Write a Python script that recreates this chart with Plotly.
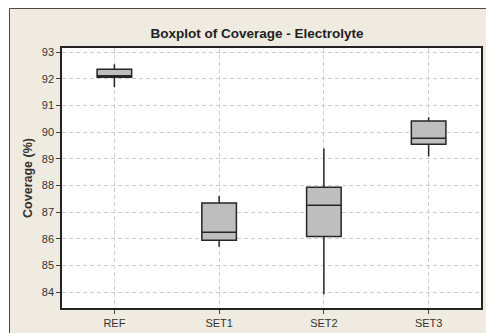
import plotly.graph_objects as go

categories = ["REF", "SET1", "SET2", "SET3"]
lower_whisker = [91.69, 85.71, 83.93, 89.09]
q1_values = [92.06, 85.95, 86.09, 89.55]
median_values = [92.12, 86.25, 87.26, 89.78]
q3_values = [92.36, 87.35, 87.94, 90.42]
upper_whisker = [92.55, 87.61, 89.39, 90.56]
y_ticks = [84, 85, 86, 87, 88, 89, 90, 91, 92, 93]

# page body has an 8px margin, so the figure is drawn 8px smaller
W, H = 486, 325
L, R, T, B = 54, 13, 40, 25
pw, ph = W - L - R, H - T - B

fig = go.Figure()
fig.add_trace(go.Box(
    x=categories,
    q1=q1_values, median=median_values, q3=q3_values,
    lowerfence=lower_whisker, upperfence=upper_whisker,
    fillcolor="#BEBEBE",
    line=dict(color="#262626", width=1.5),
    whiskerwidth=0,
    width=0.33,
    boxpoints=False,
    hoverinfo="skip",
    showlegend=False,
))

# beige outer frame (paper coords relative to plot area)
fx0 = (1.5 - L) / pw
fx1 = (W + 2 - L) / pw
fy1 = (H - B - 0.5) / ph
fy0 = -(B + 2) / ph
fig.add_shape(type="rect", xref="paper", yref="paper",
              x0=fx0, x1=fx1, y0=fy0, y1=fy1,
              fillcolor="#EFEBE1", line=dict(color="#4A4A4A", width=1),
              layer="below")
fig.add_shape(type="rect", xref="paper", yref="paper",
              x0=0, x1=1, y0=0, y1=1,
              fillcolor="white", line=dict(width=0), layer="below")

font_family = "Liberation Sans, Arial, sans-serif"
fig.update_layout(
    width=W, height=H,
    margin=dict(l=L, r=R, t=T, b=B, pad=0, autoexpand=False),
    paper_bgcolor="white",
    plot_bgcolor="rgba(0,0,0,0)",
    font=dict(family=font_family, size=11, color="#333333"),
    title=dict(text="<b>Boxplot of Coverage - Electrolyte</b>",
               x=249 / W, xanchor="center", y=1 - 25 / H, yanchor="middle",
               xref="container", yref="container",
               font=dict(size=13.5, color="#222222", family=font_family)),
    xaxis=dict(
        type="category", range=[-0.5, 3.5], automargin=False,
        showline=True, linecolor="#222222", linewidth=1.5, mirror=True,
        ticks="outside", ticklen=4, tickcolor="#444444",
        showgrid=True, gridcolor="#CCCCCC", griddash="4px,3px", gridwidth=1,
        zeroline=False,
        tickfont=dict(size=11, color="#333333"),
    ),
    yaxis=dict(
        range=[83.41, 93.16], automargin=False,
        tickvals=y_ticks, ticktext=[str(v) for v in y_ticks],
        showline=True, linecolor="#222222", linewidth=1.5, mirror=True,
        ticks="outside", ticklen=4, tickcolor="#444444",
        showgrid=True, gridcolor="#CCCCCC", griddash="4px,3px", gridwidth=1,
        zeroline=False,
        tickfont=dict(size=11, color="#333333"),
        title=dict(text="<b>Coverage (%)</b>", standoff=6,
                   font=dict(size=12.5, color="#333333")),
    ),
)

fig.write_html("out.html")
